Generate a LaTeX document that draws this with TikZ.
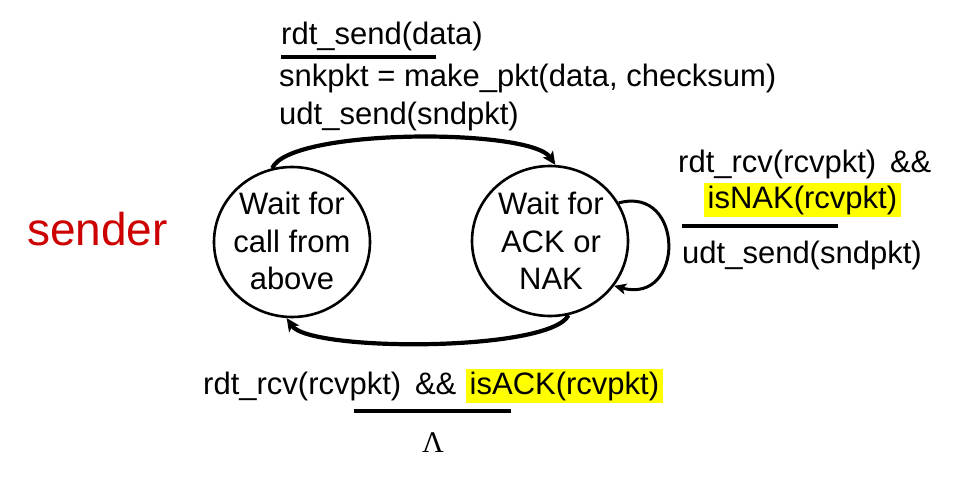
\documentclass[tikz,border=0pt]{standalone}
\usepackage{fontspec}
\setmainfont{Liberation Sans}
\newfontfamily\serifLam{Liberation Serif}
\usetikzlibrary{arrows.meta,shapes.geometric}
\definecolor{senderred}{RGB}{204,0,0}
\definecolor{hlyellow}{RGB}{255,255,0}
\tikzset{
  statenode/.style={draw=black, line width=2.6pt, ellipse, minimum width=156pt, minimum height=150pt, inner sep=0pt},
  statetext/.style={align=center, inner sep=0pt, font=\fontsize{31}{37.5}\selectfont},
  lbl/.style={anchor=base west, inner sep=0pt, font=\fontsize{31}{37}\selectfont},
  hl/.style={anchor=base west, fill=hlyellow, inner xsep=3.5pt, inner ysep=2.5pt, font=\fontsize{31}{37}\selectfont},
  bar/.style={line width=4pt},
  trans/.style={line width=4.2pt, -{Stealth[length=13pt,width=12pt,inset=3pt]}},
  looptrans/.style={line width=3pt, -{Stealth[length=12pt,width=11pt,inset=3pt]}},
}
\begin{document}
\begin{tikzpicture}[x=1pt,y=-1pt]
\useasboundingbox (0,0) rectangle (963,495);
% states
\node[statenode] (A) at (292,242) {};
\node[statetext] at (292,241) {Wait for\\call from\\above};
\node[statenode] (B) at (550,241) {};
\node[statetext] at (551,241) {Wait for\\ACK or\\NAK};
% sender
\node[anchor=base west, inner sep=0pt, text=senderred, font=\fontsize{46}{50}\selectfont] (snd) at (27,245) {sender};
% top transition
\draw[trans] (A.105) .. controls (290,128) and (530,128) .. (B.86);
\node[lbl] (t1) at (281,45) {rdt\_send(data)};
\coordinate (tb1) at (281,57); \coordinate (tb2) at (436,57);
\draw[bar] (tb1) -- (tb2);
\node[lbl] (t2) at (279,86) {snkpkt = make\_pkt(data, checksum)};
\node[lbl] (t3) at (279,124) {udt\_send(sndpkt)};
% self loop
\draw[looptrans] (B.29) .. controls (685,185) and (685,305) .. (B.-35);
\node[lbl] (r1) at (678,172) {rdt\_rcv(rcvpkt)\,\ \&\&};
\node[hl] (r2) at (704,208) {isNAK(rcvpkt)};
\coordinate (rb1) at (682,226); \coordinate (rb2) at (838,226);
\draw[bar] (rb1) -- (rb2);
\node[lbl] (r3) at (682,263) {udt\_send(sndpkt)};
% bottom transition
\draw[trans] (B.-76) .. controls (550,352) and (310,352) .. (A.-94);
\node[lbl] (b1) at (203,394) {rdt\_rcv(rcvpkt)\,\ \&\&};
\node[hl] (b2) at (466,394) {isACK(rcvpkt)};
\coordinate (bb1) at (354,411); \coordinate (bb2) at (511,411);
\draw[bar] (bb1) -- (bb2);
\node[anchor=base, inner sep=0pt, font=\serifLam\fontsize{30}{34}\selectfont] (lam) at (433,452) {Λ};
\end{tikzpicture}
\end{document}
